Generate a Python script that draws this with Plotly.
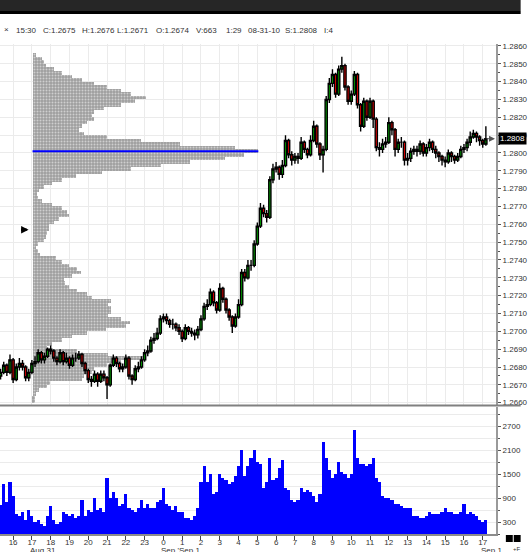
import plotly.graph_objects as go
import pandas as pd

# ---------------- data ----------------
PIP = 0.0001
PRICE_BASE = 1.2660          # prices below are given in pips above this level

bar_start = "2010-08-31 15:20"
bar_freq = "10min"
first_open = 1.2675

close_pips = [17, 21, 17, 24, 13, 20, 22, 20, 14, 17,
              22, 23, 28, 24, 26, 30, 29, 25, 23, 28,
              23, 25, 21, 25, 25, 27, 22, 18, 13, 12,
              16, 12, 16, 14, 10, 21, 25, 22, 19, 20,
              25, 15, 13, 19, 20, 24, 28, 29, 35, 36,
              39, 47, 48, 46, 44, 44, 42, 40, 36, 42,
              40, 39, 38, 41, 47, 54, 55, 62, 56, 52,
              64, 58, 52, 48, 43, 48, 55, 73, 70, 77,
              77, 89, 99, 109, 106, 104, 125, 131, 132, 128,
              133, 147, 139, 136, 138, 137, 146, 142, 139, 147,
              155, 145, 139, 142, 170, 179, 184, 173, 187, 189,
              177, 169, 173, 184, 167, 155, 169, 160, 169, 159,
              143, 142, 145, 146, 157, 153, 142, 146, 146, 136,
              137, 141, 142, 141, 145, 140, 143, 146, 142, 140,
              138, 136, 135, 140, 138, 136, 138, 142, 143, 146,
              149, 151, 149, 147, 145, 148]

high_pips = [19, 23, 22, 27, 25, 22, 25, 24, 21, 19,
             24, 26, 30, 29, 28, 31, 32, 30, 26, 30,
             29, 28, 26, 27, 28, 29, 28, 23, 19, 15,
             18, 17, 18, 18, 15, 22, 27, 26, 23, 22,
             27, 26, 16, 21, 23, 26, 30, 32, 37, 39,
             42, 49, 50, 50, 47, 47, 45, 44, 41, 44,
             43, 42, 41, 43, 49, 56, 58, 64, 63, 57,
             67, 65, 59, 53, 49, 50, 58, 75, 75, 80,
             80, 91, 101, 112, 111, 108, 127, 134, 135, 133,
             136, 150, 148, 141, 140, 140, 149, 147, 143, 150,
             158, 156, 146, 144, 172, 182, 187, 185, 189, 194,
             190, 178, 175, 186, 185, 168, 171, 170, 171, 170,
             160, 146, 148, 149, 160, 158, 154, 148, 149, 147,
             140, 143, 144, 144, 147, 146, 145, 148, 147, 144,
             141, 139, 138, 142, 141, 139, 140, 144, 145, 148,
             152, 153, 152, 150, 148, 155]

low_pips = [13, 16, 15, 16, 11, 12, 18, 18, 12, 12,
            16, 20, 22, 22, 22, 25, 27, 23, 21, 22,
            21, 22, 19, 20, 23, 24, 20, 16, 11, 9,
            11, 9, 11, 12, 2, 9, 20, 20, 17, 17,
            19, 13, 10, 12, 17, 19, 23, 26, 28, 33,
            35, 38, 45, 44, 42, 41, 40, 38, 34, 35,
            38, 37, 35, 36, 40, 46, 52, 54, 54, 50,
            51, 56, 50, 46, 39, 42, 47, 54, 68, 69,
            74, 76, 88, 98, 104, 101, 103, 123, 129, 125,
            126, 132, 137, 133, 134, 134, 136, 140, 137, 138,
            146, 143, 136, 129, 141, 168, 177, 171, 172, 185,
            175, 167, 167, 172, 165, 152, 154, 158, 159, 154,
            141, 138, 140, 143, 145, 150, 138, 140, 143, 133,
            133, 135, 139, 138, 139, 138, 138, 141, 140, 137,
            135, 133, 132, 134, 135, 134, 135, 137, 140, 141,
            144, 148, 146, 144, 143, 144]

volume = [725, 1250, 800, 1300, 950, 500, 450, 550, 350, 600,
          450, 300, 350, 250, 200, 450, 700, 350, 250, 300,
          550, 500, 450, 500, 400, 450, 850, 450, 600, 550,
          900, 600, 650, 550, 1400, 900, 1050, 900, 700, 750,
          1000, 650, 600, 550, 650, 850, 650, 750, 650, 650,
          800, 850, 1150, 750, 700, 600, 700, 550, 550, 400,
          400, 350, 450, 650, 1300, 1700, 1300, 1500, 1000, 1050,
          1500, 1400, 1350, 1250, 1300, 1450, 1700, 2100, 1450, 1700,
          1900, 2100, 1800, 1750, 1150, 1300, 1900, 1350, 1400, 1650,
          1850, 1150, 1100, 850, 800, 850, 1150, 1050, 1100, 1050,
          950, 800, 1000, 2300, 1900, 1600, 1400, 1500, 1800, 1550,
          1500, 1400, 1500, 2600, 1900, 1750, 1750, 1700, 1750, 1900,
          1400, 1300, 950, 900, 900, 850, 750, 750, 700, 650,
          650, 650, 450, 450, 400, 400, 450, 550, 500, 500,
          500, 550, 650, 550, 550, 500, 500, 550, 750, 500,
          550, 500, 450, 350, 300, 350]

# volume profile: one row per 2 pips, starting at 1.2660
profile_step_pips = 2
profile_volume = [2, 2, 3, 7, 15, 18, 50, 52, 60, 62,
                  75, 90, 114, 77, 45, 15, 20, 30, 40, 55,
                  74, 95, 99, 90, 77, 80, 80, 77, 80, 60,
                  55, 45, 37, 33, 32, 40, 49, 45, 37, 30,
                  24, 8, 6, 4, 6, 12, 14, 15, 17, 17,
                  22, 27, 37, 35, 30, 20, 10, 6, 5, 7,
                  12, 20, 30, 44, 70, 100, 130, 160, 195, 214,
                  229, 205, 150, 110, 75, 52, 47, 50, 55, 62,
                  60, 62, 72, 90, 104, 115, 100, 90, 76, 62,
                  50, 40, 30, 22, 14, 12, 10, 3]
poc_price = 1.2801
last_price = 1.2808
open_marker_price = 1.2757

vol_tick_vals = [300, 900, 1500, 2100, 2700]
hour_ticks = pd.date_range("2010-08-31 16:00", "2010-09-01 17:00", freq="h")
hour_labels = [str(t.hour) for t in hour_ticks]
date_labels = [("2010-08-31 17:00", "Aug 31"), ("2010-09-01 00:00", "Sep 'Sep 1"),
               ("2010-09-01 17:00", "Sep 1")]
header_texts = ["15:30", "C:1.2675", "H:1.2676", "L:1.2671", "O:1.2674",
                "V:663", "1:29", "08-31-10", "S:1.2808", "I:4"]

# ---------------- derived ----------------
times = pd.date_range(bar_start, periods=len(close_pips), freq=bar_freq)
close = [PRICE_BASE + p * PIP for p in close_pips]
high = [PRICE_BASE + p * PIP for p in high_pips]
low = [PRICE_BASE + p * PIP for p in low_pips]
opens = [first_open] + close[:-1]
profile_price = [PRICE_BASE + (profile_step_pips * k + profile_step_pips / 2) * PIP
                 for k in range(len(profile_volume))]

# ---------------- layout geometry (px) ----------------
W, H = 528, 552
L_M, R_M, T_M, B_M = 0, 25, 44, 18
PW = W - L_M - R_M          # 503
PH = H - T_M - B_M          # 490


def py(px_y):               # pixel y -> paper y
    return (H - B_M - px_y) / PH


def pxx(px_x):              # pixel x -> paper x
    return px_x / PW


FONT = "Liberation Sans, Arial, sans-serif"
GRID = "#ebebeb"
TXT = "#333333"

fig = go.Figure()

# volume profile (base axis x, drawn below the candles)
fig.add_trace(go.Bar(
    orientation="h", x=profile_volume, y=profile_price, xaxis="x", yaxis="y",
    width=profile_step_pips * PIP,
    marker=dict(color="#9e9e9e", line=dict(width=0),
                pattern=dict(shape=".", fgcolor="#ffffff", size=3,
                             solidity=0.35, fillmode="overlay")),
    hoverinfo="skip"))
fig.add_trace(go.Scatter(
    x=[0, max(profile_volume)], y=[poc_price, poc_price], xaxis="x", yaxis="y",
    mode="lines", line=dict(color="#0000ff", width=2), hoverinfo="skip"))

# candles (time axis x3 overlays x)
fig.add_trace(go.Candlestick(
    x=times, open=opens, high=high, low=low, close=close,
    xaxis="x3", yaxis="y", whiskerwidth=0,
    increasing=dict(line=dict(color="#000000", width=1.4), fillcolor="#00b000"),
    decreasing=dict(line=dict(color="#000000", width=1.4), fillcolor="#ff0000"),
    hoverinfo="skip"))

# volume
fig.add_trace(go.Bar(
    x=times, y=volume, xaxis="x2", yaxis="y2", width=10 * 60 * 1000,
    marker=dict(color="#0000ff", line=dict(width=0)), hoverinfo="skip"))

t_left = pd.Timestamp("2010-08-31 15:18:06")
t_right = pd.Timestamp("2010-09-01 17:42:22")

fig.update_layout(
    width=W, height=H, margin=dict(l=L_M, r=R_M, t=T_M, b=B_M, pad=0),
    paper_bgcolor="white", plot_bgcolor="white", showlegend=False,
    hovermode=False, bargap=0, boxgap=0,
    font=dict(family=FONT, size=8, color=TXT),
    xaxis=dict(domain=[0, 1], range=[-33, PW - 33], visible=False,
               anchor="y", fixedrange=True),
    xaxis3=dict(type="date", overlaying="x", anchor="y", range=[t_left, t_right],
                tickvals=list(hour_ticks), showticklabels=False, ticks="",
                showgrid=True, gridcolor=GRID, gridwidth=1, zeroline=False,
                rangeslider=dict(visible=False), showline=False),
    xaxis2=dict(type="date", matches="x3", anchor="y2", domain=[0, 1],
                tickvals=list(hour_ticks), ticktext=hour_labels,
                showgrid=False, ticks="outside", ticklen=4, tickcolor="#444444",
                showline=True, linecolor="#8c8c8c", linewidth=2,
                ticklabelstandoff=-5,
                tickfont=dict(size=8, color=TXT), zeroline=False),
    yaxis=dict(domain=[py(405), 1], range=[1.26587, 1.28611], side="right",
               anchor="x", tickmode="linear", tick0=1.266, dtick=0.001,
               tickformat=".4f", showgrid=True, gridcolor=GRID,
               ticks="outside", ticklen=3, tickcolor="#555555",
               showline=True, linecolor="#9a9a9a", linewidth=2, zeroline=False,
               tickfont=dict(size=8, color=TXT),
               minor=dict(tickmode="linear", dtick=0.0005, ticks="outside",
                          ticklen=2, tickcolor="#555555", showgrid=False)),
    yaxis2=dict(domain=[0, py(407)], range=[0, 3190], side="right", anchor="x2",
                tickmode="array", tickvals=vol_tick_vals, showgrid=True,
                gridcolor=GRID, ticks="outside", ticklen=3, tickcolor="#555555",
                showline=True, linecolor="#9a9a9a", linewidth=2, zeroline=False,
                tickfont=dict(size=8, color=TXT),
                minor=dict(tickmode="linear", tick0=0, dtick=300, ticks="outside",
                           ticklen=2, tickcolor="#555555", showgrid=True,
                           gridcolor=GRID)),
)

shapes = [
    # top title bar
    dict(type="rect", xref="paper", yref="paper", x0=0, x1=pxx(W), y0=py(11), y1=py(0),
         fillcolor="#262626", line=dict(width=0), layer="above"),
    dict(type="rect", xref="paper", yref="paper", x0=0, x1=pxx(W), y0=py(14), y1=py(11),
         fillcolor="#000000", line=dict(width=0), layer="above"),
    # separator between price and volume panes
    dict(type="line", xref="paper", yref="paper", x0=0, x1=pxx(W), y0=py(405.5), y1=py(405.5),
         line=dict(color="#808080", width=2), layer="above"),
    # small squares bottom right
    dict(type="rect", xref="paper", yref="paper", x0=pxx(513), x1=pxx(520), y0=py(542), y1=py(535),
         fillcolor="#000000", line=dict(width=0)),
    dict(type="rect", xref="paper", yref="paper", x0=pxx(521), x1=pxx(528), y0=py(542), y1=py(535),
         fillcolor="#000000", line=dict(width=0)),
]
fig.update_layout(shapes=shapes)

ann = []
header_x = [15, 43, 82, 118, 157, 198, 228, 250, 288, 328]
for txt, hx in zip(header_texts, header_x):
    ann.append(dict(xref="paper", yref="paper", x=pxx(hx), y=py(30), text=txt,
                    showarrow=False, xanchor="left", yanchor="middle", borderpad=0,
                    font=dict(size=8, color=TXT, family=FONT)))
ann.append(dict(xref="paper", yref="paper", x=pxx(6.5), y=py(29), text="×",
                showarrow=False, xanchor="center", yanchor="middle",
                font=dict(size=8, color=TXT, family=FONT)))
for dt, txt in date_labels:
    ann.append(dict(xref="x3", yref="paper", x=dt, y=py(544.5), text=txt,
                    showarrow=False, xanchor="left", yanchor="top", xshift=-3,
                    borderpad=0, font=dict(size=8, color=TXT, family=FONT)))
# last price box
ann.append(dict(xref="paper", yref="y", x=pxx(505), y=last_price, text=str(last_price),
                showarrow=False, xanchor="left", yanchor="middle",
                bgcolor="#000000", borderpad=1,
                font=dict(size=8, color="#ffffff", family=FONT)))
ann.append(dict(xref="paper", yref="y", x=pxx(502), y=last_price, ax=-10, ay=0,
                text="", showarrow=True, arrowhead=2, arrowsize=1.2, arrowwidth=1,
                arrowcolor="#555555"))
# session open marker
ann.append(dict(xref="paper", yref="y", x=pxx(29), y=open_marker_price, ax=-9, ay=0,
                text="", showarrow=True, arrowhead=2, arrowsize=0.6, arrowwidth=2.5,
                arrowcolor="#000000"))
ann.append(dict(xref="paper", yref="paper", x=pxx(518), y=py(549), text="+F",
                showarrow=False, xanchor="left", yanchor="middle",
                font=dict(size=6, color=TXT, family=FONT)))
fig.update_layout(annotations=ann)

fig.write_html("out.html",
               config={"displayModeBar": False},
               post_script="document.body.style.margin='0px';"
                           "document.body.style.overflow='hidden';")
